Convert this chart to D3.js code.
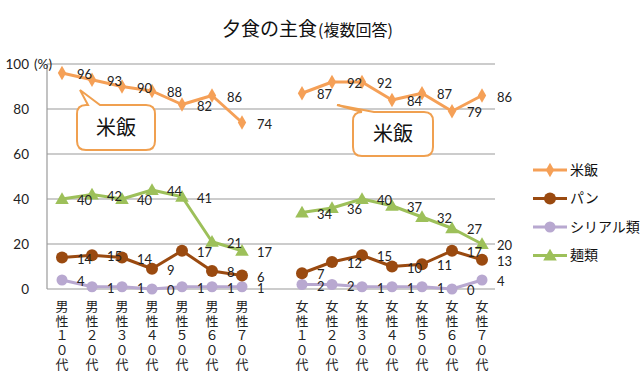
<!DOCTYPE html>
<html><head><meta charset="utf-8">
<script src="https://cdn.jsdelivr.net/npm/d3@7"></script>
<style>body{margin:0;background:#fff}</style>
</head><body><svg id="c" width="640" height="388"></svg>
<script>
const categories = ["男性１０代","男性２０代","男性３０代","男性４０代","男性５０代","男性６０代","男性７０代","",
                    "女性１０代","女性２０代","女性３０代","女性４０代","女性５０代","女性６０代","女性７０代"];
const rice    = [96,93,90,88,82,86,74,null,87,92,92,84,87,79,86];
const bread   = [14,15,14,9,17,8,6,null,7,12,15,10,11,17,13];
const cereal  = [4,1,1,0,1,1,1,null,2,2,1,1,1,0,4];
const noodles = [40,42,40,44,41,21,17,null,34,36,40,37,32,27,20];
const seriesNames = ["米飯","パン","シリアル類","麺類"];
const yTicks = [0,20,40,60,80,100];
const colors = ["#F5A057","#9A4A10","#B8A8D0","#9DC05A"];
const markers = ["diamond","circle","circle","triangle"];
const seriesData = [rice, bread, cereal, noodles];

const svg = d3.select("#c");
const L=47, R=497, T=64, B=289;
const x = d3.scaleBand().domain(d3.range(categories.length)).range([L,R]);
const y = d3.scaleLinear().domain([0,100]).range([B,T]);
const cx = i => x(i)+x.bandwidth()/2;
const numFont = "Lato, 'Open Sans', sans-serif";
const jpFont = "'Noto Sans CJK JP', sans-serif";

// gridlines
svg.append("g").selectAll("line").data(yTicks).join("line")
  .attr("x1",L).attr("x2",R-2).attr("y1",d=>y(d)).attr("y2",d=>y(d))
  .attr("stroke","#9a9a9a").attr("stroke-width",1.2);
svg.append("line").attr("x1",L).attr("x2",L).attr("y1",T).attr("y2",B).attr("stroke","#9a9a9a").attr("stroke-width",1.2);

// y tick labels
svg.append("g").selectAll("text").data(yTicks).join("text")
  .attr("x",29).attr("y",d=>y(d)).attr("dy","0.35em").attr("text-anchor","end")
  .attr("font-family",numFont).attr("font-size",13.5).attr("fill","#222")
  .text(d=>d);
svg.append("text").attr("x",34).attr("y",y(100)).attr("dy","0.35em")
  .attr("font-family",numFont).attr("font-size",13.5).attr("fill","#222").text("(%)");

// x labels vertical (one text per label)
svg.append("g").selectAll("text").data(categories.map((c,i)=>({c,i})).filter(d=>d.c)).join("text")
  .attr("x",d=>cx(d.i)).attr("y",300)
  .style("writing-mode","vertical-rl").style("text-orientation","upright")
  .attr("font-family",jpFont).attr("font-size",13).attr("letter-spacing",1.5).attr("fill","#222")
  .text(d=>d.c);

// title
const title = svg.append("text").attr("x",222).attr("y",30).attr("dy","0.35em").attr("fill","#111").attr("font-family",jpFont);
title.append("tspan").attr("font-size",19).text("夕食の主食");
title.append("tspan").attr("font-size",16).attr("dx",1).text("(複数回答)");

function drawMarker(g, type, px, py, color){
  if(type==="diamond"){
    g.append("path").attr("d",d3.symbol(d3.symbolDiamond,60)()).attr("transform",`translate(${px},${py})`).attr("fill",color);
  } else if(type==="triangle"){
    g.append("path").attr("d",d3.symbol(d3.symbolTriangle,80)()).attr("transform",`translate(${px},${py+1})`).attr("fill",color);
  } else {
    g.append("circle").attr("cx",px).attr("cy",py).attr("r",color===colors[1]?6:5.5).attr("fill",color);
  }
}

const line = d3.line().defined(d=>d.v!==null).x(d=>cx(d.i)).y(d=>y(d.v));
[3,2,1,0].forEach(s=>{
  const g = svg.append("g");
  const pts = seriesData[s].map((v,i)=>({v,i}));
  g.append("path").attr("d",line(pts)).attr("fill","none").attr("stroke",colors[s]).attr("stroke-width",3).attr("stroke-linejoin","round");
  pts.forEach(p=>{ if(p.v!==null) drawMarker(g, markers[s], cx(p.i), y(p.v), colors[s]); });
  g.selectAll("text").data(pts.filter(p=>p.v!==null)).join("text")
    .attr("x",p=>cx(p.i)+15).attr("y",p=>y(p.v)+1.5).attr("dy","0.35em")
    .attr("font-family",numFont).attr("font-size",13).attr("fill","#222").text(p=>p.v);
});

// callouts
function callout(bx,by,bw,bh,tipx,tipy,b1,b2){
  const r=9;
  const p = d3.path();
  p.moveTo(bx+r,by);
  p.lineTo(b1,by); p.lineTo(tipx,tipy); p.lineTo(b2,by);
  p.lineTo(bx+bw-r,by); p.quadraticCurveTo(bx+bw,by,bx+bw,by+r);
  p.lineTo(bx+bw,by+bh-r); p.quadraticCurveTo(bx+bw,by+bh,bx+bw-r,by+bh);
  p.lineTo(bx+r,by+bh); p.quadraticCurveTo(bx,by+bh,bx,by+bh-r);
  p.lineTo(bx,by+r); p.quadraticCurveTo(bx,by,bx+r,by);
  p.closePath();
  svg.append("path").attr("d",p.toString()).attr("fill","#fff").attr("stroke","#F0A050").attr("stroke-width",2);
  svg.append("text").attr("x",bx+bw/2).attr("y",by+bh/2).attr("dy","0.35em").attr("text-anchor","middle")
    .attr("font-family",jpFont).attr("font-size",20).attr("fill","#111").text(seriesNames[0]);
}
callout(77,105,78,45,80,90,88,100);
callout(353,112,80,44,337,105,362,374);

// legend
const lg = svg.append("g");
[0,1,2,3].forEach(s=>{
  const ly = 170 + s*28.5;
  lg.append("line").attr("x1",533).attr("x2",567).attr("y1",ly).attr("y2",ly).attr("stroke",colors[s]).attr("stroke-width",3);
  drawMarker(lg, markers[s], 550, ly, colors[s]);
  lg.append("text").attr("x",570).attr("y",ly).attr("dy","0.35em").attr("font-family",jpFont).attr("font-size",14).attr("fill","#111").text(seriesNames[s]);
});
</script></body></html>
